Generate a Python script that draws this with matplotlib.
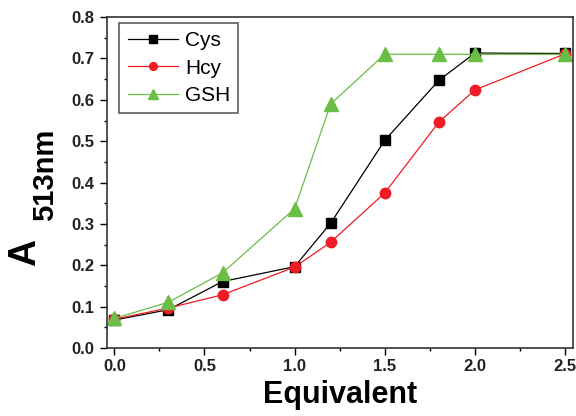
import matplotlib
matplotlib.use('Agg')
import matplotlib.pyplot as plt
from matplotlib.ticker import MultipleLocator

equiv = [0.0, 0.3, 0.6, 1.0, 1.2, 1.5, 1.8, 2.0, 2.5]
cys = [0.068, 0.093, 0.161, 0.197, 0.302, 0.502, 0.647, 0.713, 0.712]
hcy = [0.070, 0.097, 0.129, 0.196, 0.256, 0.375, 0.546, 0.624, 0.711]
gsh = [0.072, 0.111, 0.182, 0.337, 0.590, 0.710, 0.710, 0.710, 0.710]

plt.rcParams['font.family'] = 'Liberation Sans'

fig = plt.figure(figsize=(5.76, 4.16), dpi=100)
ax = fig.add_axes([0.186, 0.163, 0.809, 0.796])

ax.plot(equiv, cys, color='black', lw=0.9, marker='s', ms=7, label='Cys')
ax.plot(equiv, hcy, color='#ee1c24', lw=0.9, marker='o', ms=7.5, label='Hcy')
ax.plot(equiv, gsh, color='#6abd45', lw=0.9, marker='^', ms=10, label='GSH')

ax.set_xlim(-0.04, 2.545)
ax.set_ylim(0.0, 0.8)
ax.xaxis.set_major_locator(MultipleLocator(0.5))
ax.xaxis.set_minor_locator(MultipleLocator(0.25))
ax.yaxis.set_major_locator(MultipleLocator(0.1))
ax.yaxis.set_minor_locator(MultipleLocator(0.05))
ax.tick_params(which='major', length=5, width=1, direction='out', pad=3)
ax.tick_params(which='minor', length=2.5, width=1, direction='out')
ax.tick_params(axis='y', pad=4)
for lab in ax.get_xticklabels() + ax.get_yticklabels():
    lab.set_fontweight('bold')
    lab.set_fontsize(12)
    lab.set_color('#222222')
for s in ax.spines.values():
    s.set_linewidth(1.2)
    s.set_color('#333333')

ax.set_xlabel('Equivalent', fontsize=22, fontweight='bold', labelpad=4)
fig.text(0.043, 0.394, 'A', rotation=90, fontsize=27, fontweight='bold',
         ha='center', va='center')
fig.text(0.078, 0.579, '513nm', rotation=90, fontsize=21, fontweight='bold',
         ha='center', va='center')

leg = ax.legend(loc='upper left', bbox_to_anchor=(0.026, 0.982), fontsize=15,
                frameon=True, fancybox=False, handlelength=2.4,
                borderaxespad=0, labelspacing=0.4, handletextpad=0.35,
                borderpad=0.4, markerscale=0.75)
leg.get_frame().set_edgecolor('#333333')
leg.get_frame().set_linewidth(1.2)

fig.savefig('out.png', dpi=100)
